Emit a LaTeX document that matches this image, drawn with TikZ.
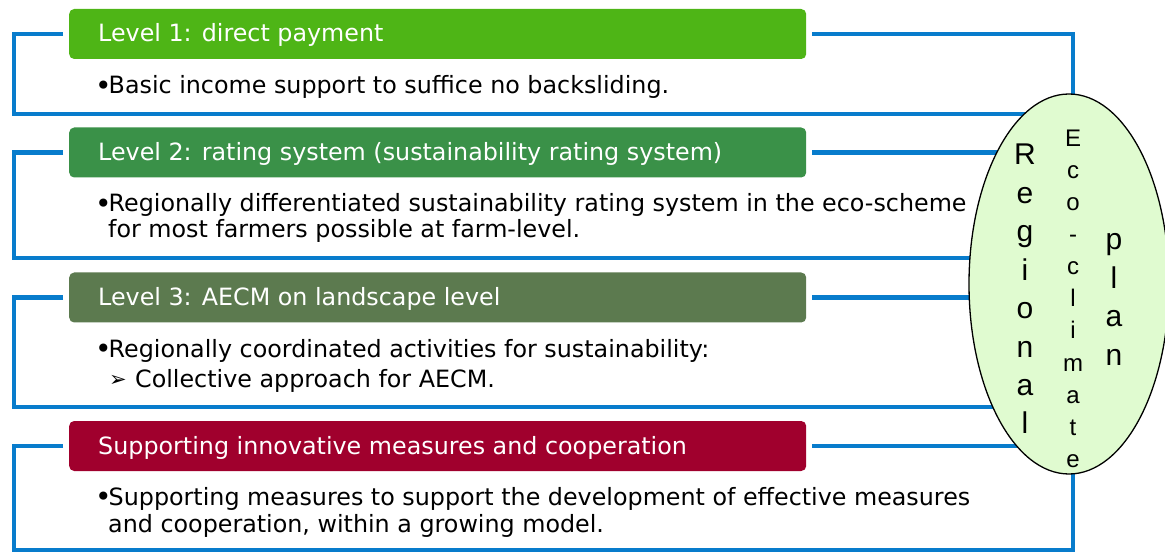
\documentclass[tikz,border=0pt]{standalone}
\usepackage{fontspec}
\usetikzlibrary{shapes.geometric}
\setmainfont{DejaVu Sans}
\newfontfamily\ovalfont{Liberation Sans}
\definecolor{frameblue}{RGB}{8,124,204}
\definecolor{hgreenA}{RGB}{78,181,22}
\definecolor{hgreenB}{RGB}{58,145,72}
\definecolor{hgreenC}{RGB}{92,122,79}
\definecolor{hred}{RGB}{160,0,45}
\definecolor{ovalfill}{RGB}{224,251,208}
\newcommand{\bigbullet}{{\fontsize{28}{28}\selectfont\raisebox{-1.5pt}{•}}\kern-3pt}
\begin{document}
\begin{tikzpicture}[x=1pt,y=-1pt,
  frameline/.style={draw=frameblue, line width=4.5pt},
  headbox/.style={rounded corners=5pt, draw=none, minimum width=737pt,
    minimum height=50pt, anchor=west, inner sep=0pt},
  headtext/.style={anchor=base west, inner sep=0pt, text=white,
    font=\fontsize{23.8}{28}\selectfont},
  bodytext/.style={anchor=base west, inner sep=0pt,
    font=\fontsize{23.8}{28}\selectfont},
  bigletter/.style={anchor=base, inner sep=0pt, font=\ovalfont\fontsize{30}{30}\selectfont},
  smallletter/.style={anchor=base, inner sep=0pt, font=\ovalfont\fontsize{24}{24}\selectfont}]
\useasboundingbox (0,0) rectangle (1165,553);

% header bars
\node[headbox, fill=hgreenA] (h1) at (69,34) {};
\node[headbox, fill=hgreenB] (h2) at (69,152.5) {};
\node[headbox, fill=hgreenC] (h3) at (69,297.5) {};
\node[headbox, fill=hred]    (h4) at (69,446) {};

% open frames around each level
\draw[frameline] ([xshift=-6pt]h1.west) -- (14,34) -- (14,114) -- (1073,114)
  -- (1073,34) -- ([xshift=6pt]h1.east);
\draw[frameline] ([xshift=-6pt]h2.west) -- (14,152.5) -- (14,258) -- (1073,258)
  -- (1073,152.5) -- ([xshift=6pt]h2.east);
\draw[frameline] ([xshift=-6pt]h3.west) -- (14,297.5) -- (14,407) -- (1073,407)
  -- (1073,297.5) -- ([xshift=6pt]h3.east);
\draw[frameline] ([xshift=-6pt]h4.west) -- (14,446) -- (14,550) -- (1073,550)
  -- (1073,446) -- ([xshift=6pt]h4.east);

% header titles
\node[headtext] (t1) at (98,42) {Level 1: direct payment};
\node[headtext] (t2) at (98,161) {Level 2: rating system (sustainability rating system)};
\node[headtext] (t3) at (98,305.5) {Level 3: AECM on landscape level};
\node[headtext] (t4) at (98,454) {Supporting innovative measures and cooperation};

% body texts
\node[bodytext] (b1) at (95,94) {\bigbullet Basic income support to suffice no backsliding.};
\node[bodytext] (b2) at (95,212) {\bigbullet Regionally differentiated sustainability rating system in the eco-scheme};
\node[bodytext] (b2b) at (108,238) {for most farmers possible at farm-level.};
\node[bodytext] (b3) at (95,357) {\bigbullet Regionally coordinated activities for sustainability:};
\node[bodytext, font=\fontsize{21}{24}\selectfont] (b3m) at (109,386) {➢};
\node[bodytext] (b3s) at (135,388) {Collective approach for AECM.};
\node[bodytext] (b4) at (95,505) {\bigbullet Supporting measures to support the development of effective measures};
\node[bodytext] (b4b) at (108,532) {and cooperation, within a growing model.};

% regional eco-climate plan oval
\node[ellipse, fill=ovalfill, draw=black, line width=1.3pt,
  minimum width=200pt, minimum height=380pt, inner sep=0pt] (oval) at (1069,284) {};
\foreach \c [count=\i] in {R,e,g,i,o,n,a,l}
  \node[bigletter] (reg\i) at (1025,{165+38.4*(\i-1)}) {\c};
\foreach \c [count=\i] in {E,c,o,-,c,l,i,m,a,t,e}
  \node[smallletter] (eco\i) at (1073,{147+32*(\i-1)}) {\c};
\foreach \c [count=\i] in {p,l,a,n}
  \node[bigletter] (pl\i) at (1114,{250+38.4*(\i-1)}) {\c};
\end{tikzpicture}
\end{document}
